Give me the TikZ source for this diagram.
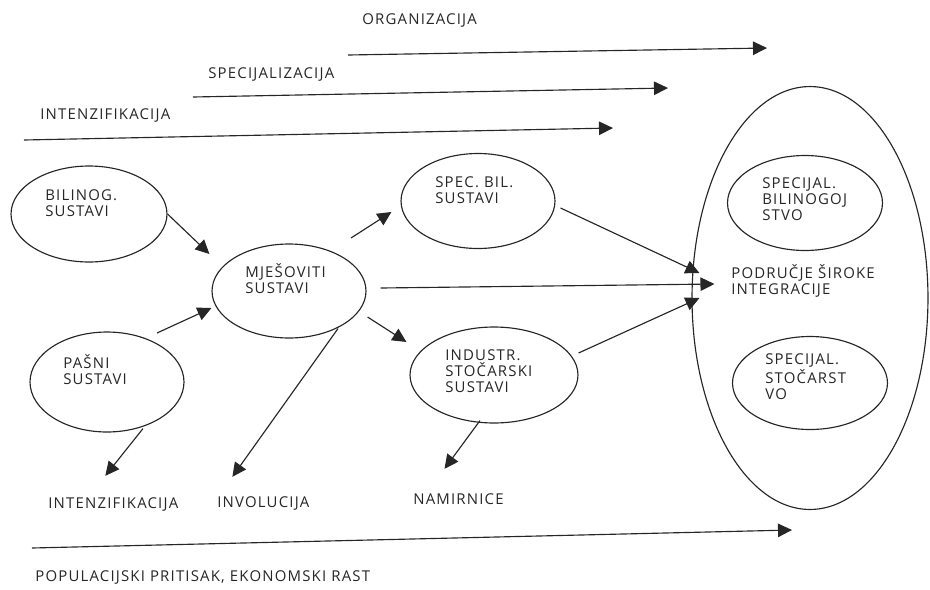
\documentclass[tikz,border=0pt]{standalone}
\usepackage{fontspec}
\usetikzlibrary{arrows.meta,calc,shapes.geometric}
\newfontfamily\lblfont{Open Sans}[LetterSpace=8]
\definecolor{ink}{HTML}{262626}
\tikzset{
  blob/.style={ellipse, draw=ink, line width=0.65pt, inner sep=0pt},
  lbl/.style={font=\lblfont\fontsize{8.5}{9}\selectfont, text=ink, align=left,
              inner sep=0pt, anchor=base west},
  arr/.style={-{Triangle[length=2.8mm,width=2.7mm]}, line width=0.65pt, draw=ink}}
\begin{document}
\begin{tikzpicture}[x=0.02cm, y=-0.02cm]
    \useasboundingbox (0,0) rectangle (930,589);
    % the wide integration area
    \node[blob, minimum width=4.72cm, minimum height=8.46cm] (big) at (810,298) {};
    \node[blob, minimum width=3.1cm, minimum height=1.9cm] (sbi) at (805,203) {};
    \node[blob, minimum width=3.1cm, minimum height=1.86cm] (sst) at (810,383) {};
    \node[lbl] (sbit) at (762,220) {SPECIJAL.\\BILINOGOJ\\STVO};
    \node[lbl] (sstt) at (765,399) {SPECIJAL.\\STOČARST\\VO};
    \node[lbl] (integ) at (731,294) {PODRUČJE ŠIROKE\\INTEGRACIJE};
    % systems
    \node[blob, minimum width=3.12cm, minimum height=1.92cm] (bil) at (89,214) {};
    \node[blob, minimum width=3.08cm, minimum height=1.88cm] (mje) at (289,291) {};
    \node[blob, minimum width=3.08cm, minimum height=2cm] (pas) at (107,382) {};
    \node[blob, minimum width=3.08cm, minimum height=1.9cm] (spb) at (478,201) {};
    \node[blob, minimum width=3.36cm, minimum height=1.92cm] (ind) at (494,375) {};
    \node[lbl] (bilt) at (45,216) {BILINOG.\\SUSTAVI};
    \node[lbl] (mjet) at (245,293) {MJEŠOVITI\\SUSTAVI};
    \node[lbl] (past) at (63,384) {PAŠNI\\SUSTAVI};
    \node[lbl] (spbt) at (435,203) {SPEC. BIL.\\SUSTAVI};
    \node[lbl] (indt) at (445,392) {INDUSTR.\\STOČARSKI\\SUSTAVI};
    % outcomes
    \node[lbl] (int2) at (48,508) {INTENZIFIKACIJA};
    \node[lbl] (invo) at (217,507) {INVOLUCIJA};
    \node[lbl] (nami) at (413,504) {NAMIRNICE};
    % trends
    \node[lbl] (org) at (362,24) {ORGANIZACIJA};
    \node[lbl] (spec) at (208,78) {SPECIJALIZACIJA};
    \node[lbl] (int1) at (40,119) {INTENZIFIKACIJA};
    \node[lbl] (popu) at (35,581) {POPULACIJSKI PRITISAK, EKONOMSKI RAST};
    \coordinate (orgA) at (348,55);  \coordinate (orgB) at (767,48);
    \coordinate (specA) at (193,97); \coordinate (specB) at (668,88);
    \coordinate (intA) at (24,140);  \coordinate (intB) at (613,128);
    \coordinate (popA) at (32,548);  \coordinate (popB) at (792,530);
    \draw[arr] (orgA) -- (orgB);
    \draw[arr] (specA) -- (specB);
    \draw[arr] (intA) -- (intB);
    \draw[arr] (popA) -- (popB);
    % flows between systems
    \draw[arr] (bil.east) -- ($(mje.west)+(-2,-37)$);
    \draw[arr] ($(pas)+(50,-49)$) -- ($(mje.west)+(0,17)$);
    \draw[arr] ($(mje)+(62,-53)$) -- ($(spb.west)+(-9,11)$);
    \draw[arr] ($(mje.east)+(1,26)$) -- ($(ind.west)+(-3,-33)$);
    \draw[arr] ($(mje.east)+(14,-3)$) -- ($(big.west)+(23,-14)$);
    \draw[arr] ($(spb.east)+(5,7)$) -- ($(big.west)+(8,-25)$);
    \draw[arr] ($(ind.east)+(0,-22)$) -- ($(big.west)+(8,0)$);
    \draw[arr] ($(pas.south)+(36,-4)$) -- ($(int2.north)+(-8,-21)$);
    \draw[arr] ($(mje.south)+(49,-10)$) -- ($(invo.north)+(-31,-19)$);
    \draw[arr] ($(ind.south)+(-14,-3)$) -- ($(nami.north)+(-14,-24)$);
\end{tikzpicture}
\end{document}
